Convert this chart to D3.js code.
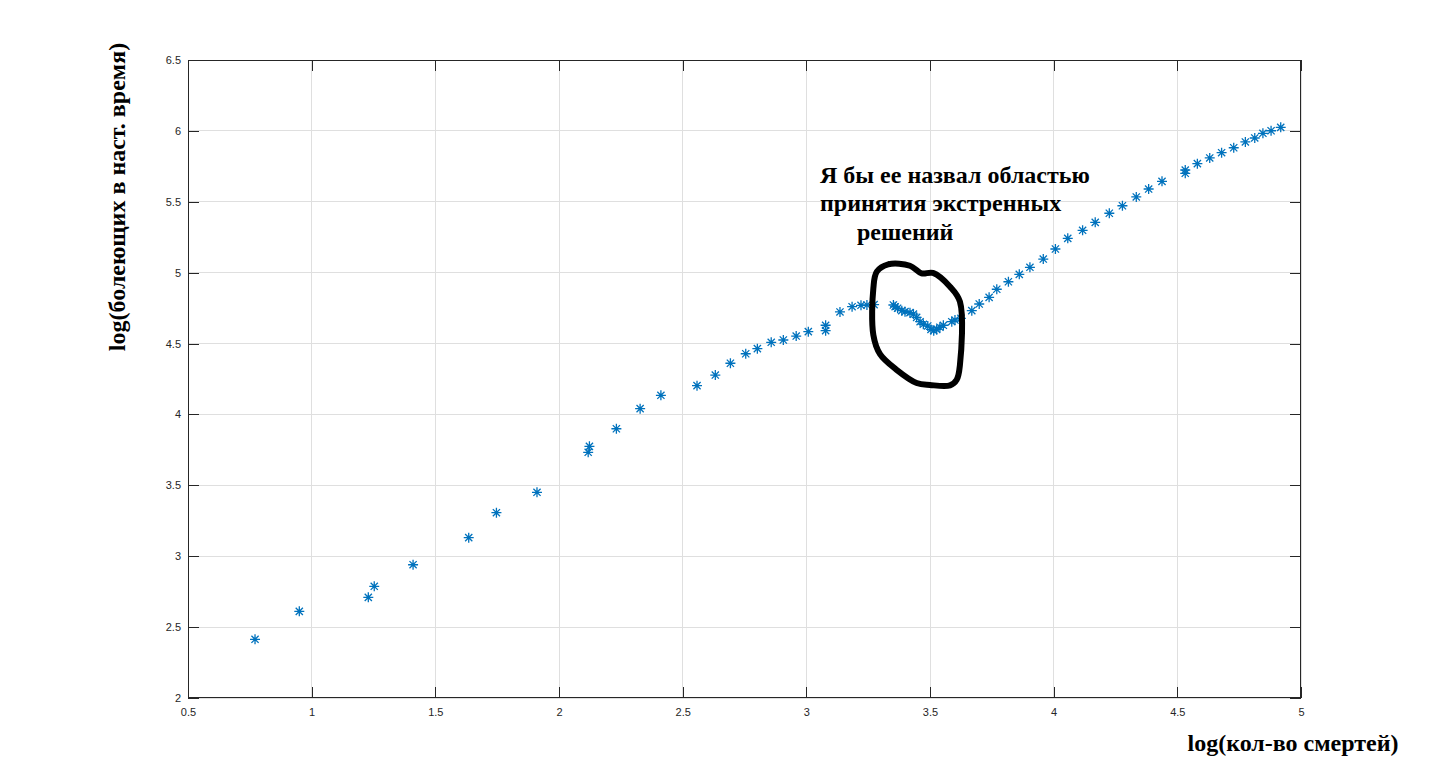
<!DOCTYPE html>
<html>
<head>
<meta charset="utf-8">
<script src="https://cdn.jsdelivr.net/npm/d3@7"></script>
<style>
  html, body { margin: 0; padding: 0; background: #fff; }
  svg { display: block; }
</style>
</head>
<body>
<svg id="chart" width="1440" height="784"></svg>
<script>
// ---- data ----
const xDeaths = [0.771,0.950,1.229,1.253,1.410,1.635,1.747,1.911,2.118,2.123,2.232,2.328,2.412,2.558,2.632,2.693,2.755,2.802,2.858,2.907,2.959,3.008,3.078,3.078,3.136,3.185,3.221,3.245,3.274,
  3.352,3.359,3.369,3.386,3.399,3.419,3.433,3.446,3.460,3.473,3.491,3.504,3.515,3.527,3.540,3.554,3.588,3.601,3.625,3.669,
  3.699,3.739,3.770,3.817,3.861,3.904,3.958,4.007,4.057,4.117,4.168,4.225,4.278,4.334,4.384,4.438,4.532,4.532,4.581,4.631,4.679,4.728,4.775,4.813,4.846,4.879,4.918];
const yActive = [2.414,2.611,2.710,2.788,2.940,3.131,3.307,3.451,3.733,3.775,3.899,4.041,4.135,4.203,4.278,4.361,4.428,4.464,4.509,4.525,4.553,4.584,4.629,4.591,4.723,4.760,4.770,4.772,4.775,
  4.772,4.760,4.749,4.732,4.725,4.718,4.708,4.685,4.654,4.636,4.624,4.600,4.591,4.600,4.615,4.629,4.654,4.666,4.678,4.732,
  4.779,4.826,4.883,4.936,4.988,5.038,5.096,5.167,5.242,5.299,5.355,5.419,5.472,5.534,5.590,5.644,5.724,5.701,5.769,5.809,5.846,5.881,5.922,5.950,5.983,6.001,6.025];
const xTicks = [0.5,1,1.5,2,2.5,3,3.5,4,4.5,5];
const xTickLabels = ["0.5","1","1.5","2","2.5","3","3.5","4","4.5","5"];
const yTicks = [2,2.5,3,3.5,4,4.5,5,5.5,6,6.5];
const yTickLabels = ["2","2.5","3","3.5","4","4.5","5","5.5","6","6.5"];
// hand-drawn annotation loop (data units)
const loopX = [3.285,3.331,3.419,3.466,3.512,3.581,3.621,3.621,3.608,3.581,3.500,3.446,3.365,3.298,3.271,3.271];
const loopY = [5.007,5.059,5.049,4.995,4.998,4.901,4.795,4.349,4.245,4.205,4.208,4.222,4.315,4.425,4.560,4.890];
const noteLines = ["Я бы ее назвал областью", "принятия экстренных", "решений"];
const xLabel = "log(кол-во смертей)";
const yLabel = "log(болеющих в наст. время)";

// ---- layout ----
const L = 188, R = 1301, T = 60, B = 698;
const svg = d3.select("#chart");
const x = d3.scaleLinear().domain([0.5, 5]).range([L, R]);
const y = d3.scaleLinear().domain([2, 6.5]).range([B, T]);
const axisColor = "#262626";
const gridColor = "#dfdfdf";
const tickLen = 11;

// grid
const grid = svg.append("g");
grid.selectAll("line.gx").data(xTicks).join("line")
  .attr("x1", d => x(d)).attr("x2", d => x(d)).attr("y1", T).attr("y2", B)
  .attr("stroke", gridColor).attr("stroke-width", 1).attr("shape-rendering", "crispEdges");
grid.selectAll("line.gy").data(yTicks).join("line")
  .attr("y1", d => y(d)).attr("y2", d => y(d)).attr("x1", L).attr("x2", R)
  .attr("stroke", gridColor).attr("stroke-width", 1).attr("shape-rendering", "crispEdges");

// axes (inward ticks on all sides)
const fmtX = d => xTickLabels[xTicks.indexOf(d)];
const fmtY = d => yTickLabels[yTicks.indexOf(d)];
function styleAxis(g) {
  g.select(".domain").remove();
  g.selectAll(".tick line").attr("stroke", axisColor).attr("shape-rendering", "crispEdges");
  g.selectAll(".tick text").attr("fill", axisColor)
    .style("font-family", "Liberation Sans, Arial, sans-serif").style("font-size", "11px");
}
svg.append("g").attr("transform", `translate(0,${B})`)
  .call(d3.axisBottom(x).tickValues(xTicks).tickFormat(fmtX).tickSizeInner(-tickLen).tickSizeOuter(0).tickPadding(10))
  .call(styleAxis);
svg.append("g").attr("transform", `translate(0,${T})`)
  .call(d3.axisTop(x).tickValues(xTicks).tickFormat("").tickSizeInner(-tickLen).tickSizeOuter(0))
  .call(styleAxis);
svg.append("g").attr("transform", `translate(${L},0)`)
  .call(d3.axisLeft(y).tickValues(yTicks).tickFormat(fmtY).tickSizeInner(-tickLen).tickSizeOuter(0).tickPadding(7))
  .call(styleAxis);
svg.append("g").attr("transform", `translate(${R},0)`)
  .call(d3.axisRight(y).tickValues(yTicks).tickFormat("").tickSizeInner(-tickLen).tickSizeOuter(0))
  .call(styleAxis);

// box
svg.append("rect").attr("x", L + 0.5).attr("y", T + 0.5).attr("width", R - L - 1).attr("height", B - T - 1)
  .attr("fill", "none").attr("stroke", axisColor).attr("stroke-width", 1);

// asterisk markers
const r = 5, dd = 3.6;
const star = `M${-r},0H${r}M0,${-r}V${r}M${-dd},${-dd}L${dd},${dd}M${-dd},${dd}L${dd},${-dd}`;
svg.append("g").selectAll("path").data(xDeaths.map((v, i) => [v, yActive[i]])).join("path")
  .attr("transform", d => `translate(${x(d[0])},${y(d[1])})`)
  .attr("d", star).attr("fill", "none").attr("stroke", "#0072BD").attr("stroke-width", 1.3);

// hand-drawn loop
const loopLine = d3.line().x(d => x(d[0])).y(d => y(d[1])).curve(d3.curveCatmullRomClosed.alpha(0.5));
svg.append("path").attr("d", loopLine(loopX.map((v, i) => [v, loopY[i]])))
  .attr("fill", "none").attr("stroke", "#000").attr("stroke-width", 6)
  .attr("stroke-linejoin", "round").attr("stroke-linecap", "round");

// annotation text
const serif = "Liberation Serif, Times New Roman, serif";
const noteX = [820, 820, 857];
const noteY = [183, 211, 240];
svg.append("g").selectAll("text").data(noteLines).join("text")
  .attr("x", (d, i) => noteX[i]).attr("y", (d, i) => noteY[i])
  .text(d => d).attr("fill", "#000")
  .style("font-family", serif).style("font-weight", "bold").style("font-size", "24px");

// axis labels
svg.append("text").attr("x", 1293).attr("y", 751).attr("text-anchor", "middle")
  .text(xLabel).attr("fill", "#000")
  .style("font-family", serif).style("font-weight", "bold").style("font-size", "24px");
svg.append("text").attr("transform", `translate(125,197) rotate(-90)`).attr("text-anchor", "middle")
  .text(yLabel).attr("fill", "#000")
  .style("font-family", serif).style("font-weight", "bold").style("font-size", "24px");
</script>
</body>
</html>
